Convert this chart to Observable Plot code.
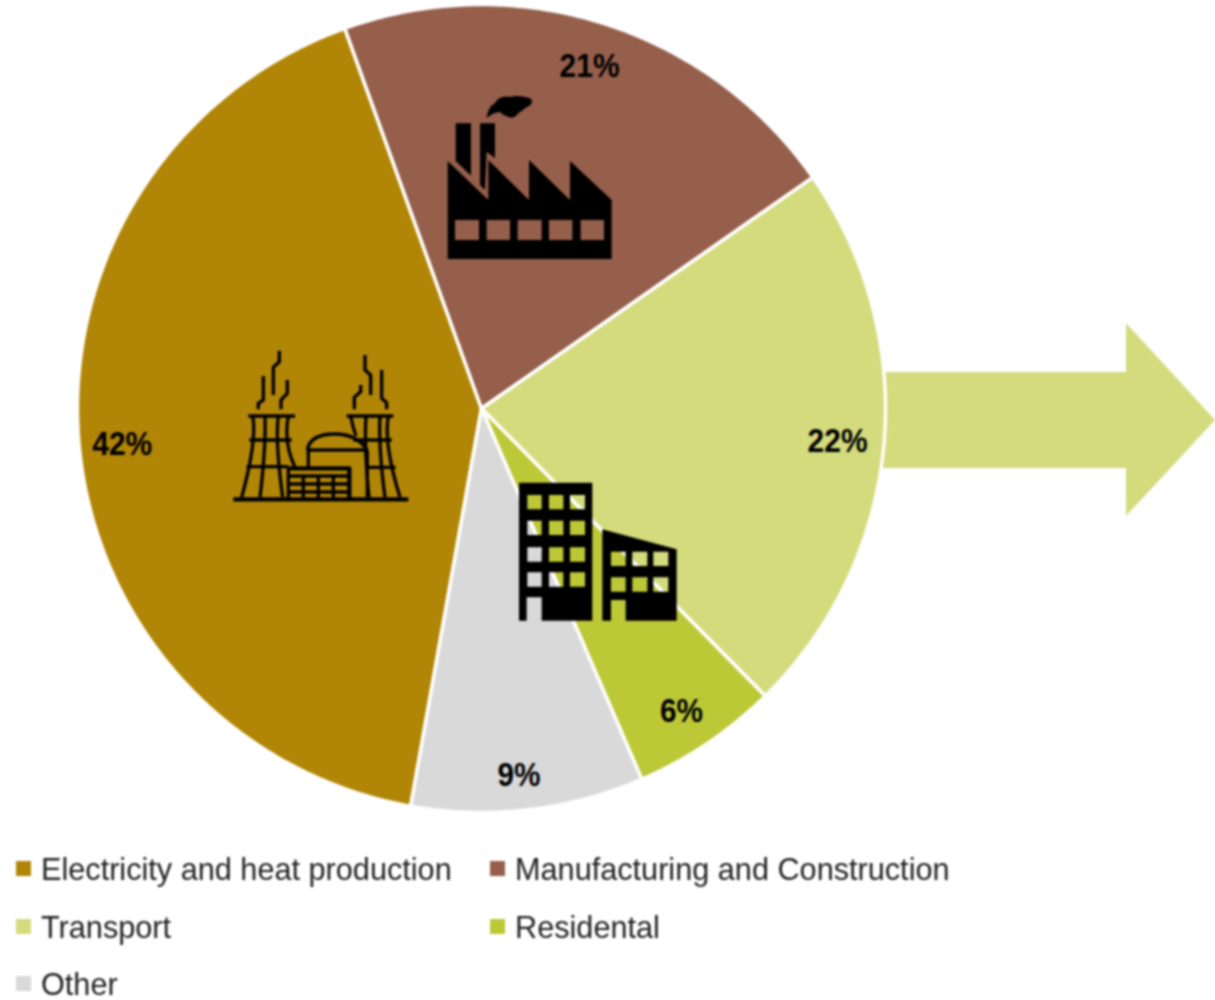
<!DOCTYPE html>
<html>
<head>
<meta charset="utf-8">
<script src="https://cdn.jsdelivr.net/npm/d3@7"></script>
<script src="https://cdn.jsdelivr.net/npm/@observablehq/plot@0.6"></script>
<style>
  html, body { margin: 0; padding: 0; background: #fff; }
  #chart { width: 1215px; height: 1000px; position: relative; filter: blur(0.8px); }
  #chart svg { display: block; }
  #legend { position: absolute; left: 0; top: 840px; width: 1215px; height: 158px;
            font-family: "Liberation Sans", Arial, sans-serif; font-size: 32px; color: #222; }
  .item { position: absolute; height: 28px; line-height: 28px; white-space: nowrap; }
  .swatch { position: absolute; left: 0; top: 6px; width: 15px; height: 15px; }
  .name { position: absolute; left: 25px; top: 0; transform-origin: 0 50%; transform: scaleX(0.958); }
</style>
</head>
<body>
<div id="chart"></div>
<script>
const categories = ["Electricity and heat production", "Manufacturing and Construction", "Transport", "Residental", "Other"];
const shares = [41.7, 20.8, 22.3, 5.9, 9.3];
const colors = ["#B18505", "#955F4C", "#D4DB7D", "#BDC837", "#D9D9D9"];

const W = 1215, H = 840;
const cx = 481, cy = 408, R = 404;
const startDeg = 190.1;
const labelRadius = 0.89;
const labelNudge = {
  "Electricity and heat production": [-1, 6],
  "Manufacturing and Construction": [-1, 1],
  "Transport": [-2, 0],
  "Residental": [-1, 5],
  "Other": [-4, 10]
};

const deg = Math.PI / 180;
const polar = (a, r) => [cx + r * Math.sin(a * deg), cy - r * Math.cos(a * deg)];

let cum = startDeg;
const slicePoints = [], labels = [];
categories.forEach((name, i) => {
  const a0 = cum, a1 = cum + shares[i] * 3.6;
  cum = a1;
  const c = { name, x: cx, y: cy };
  slicePoints.push(c);
  const n = Math.ceil((a1 - a0) / 0.5);
  for (let k = 0; k <= n; k++) {
    const [x, y] = polar(a0 + (a1 - a0) * k / n, R);
    slicePoints.push({ name, x, y });
  }
  slicePoints.push({ ...c });
  const [lx, ly] = polar((a0 + a1) / 2, R * labelRadius);
  const [nx, ny] = labelNudge[name] || [0, 0];
  labels.push({ name, x: lx + nx, y: ly + ny, text: Math.round(shares[i]) + "%" });
});

function decoration(markup) {
  return () => {
    const g = document.createElementNS("http://www.w3.org/2000/svg", "g");
    g.innerHTML = markup;
    return g;
  };
}

const arrow = `<path d="M870,372H1126V323L1215,420L1126,516V468H870Z" fill="${colors[2]}"/>`;

const plant = `<g transform="translate(220,340) scale(0.3333)" fill="none" stroke="#000" stroke-width="10" stroke-linejoin="round">
  <path stroke-width="13" d="M40,478H565"/>
  <path d="M85,228H225M380,228H520M88,300H215M400,300H515M80,380H205M445,382H527"/>
  <path d="M98,228Q112,300 65,472M135,228Q138,320 120,472M175,228Q165,300 188,472M205,228Q190,310 225,382"/>
  <path d="M392,228Q398,260 408,288M438,228Q432,320 447,472M480,228Q475,320 495,472M505,228Q490,310 540,472"/>
  <path d="M262,330Q270,282 345,282Q410,282 442,330M260,330H442M265,330V382M442,330V472"/>
  <path stroke-width="13" d="M205,385H388V478"/>
  <path d="M205,385V478M205,408H385M205,432H385M205,456H385M250,408V478M295,408V478M340,408V478"/>
  <path d="M115,208V190L130,180V108M160,165V82L178,65V32M183,208V180L202,160V120"/>
  <path d="M403,208V172L422,155V135M452,165V105L435,90V45M500,208V188L485,175V90"/>
</g>`;

const factory = `<g transform="translate(435,85) scale(0.3333)" fill="#000">
  <path fill-rule="evenodd" d="M38,228L160,345V225L282,345V225L405,345V228L530,345V522H38Z
    M60,405H132V465H60Z M155,405H225V465H155Z M248,405H320V465H248Z M342,405H412V465H342Z M437,405H507V465H437Z"/>
  <path d="M62,115H108V272L62,228Z"/>
  <path d="M135,115H180V220L155,200L150,315L135,300Z"/>
  <path d="M155,100C158,78 165,62 180,55C185,40 205,30 225,36C245,30 270,35 285,40C297,48 290,62 272,68C262,78 250,82 240,95C225,102 208,92 195,82C180,82 165,90 155,100Z"/>
</g>`;

function rectPath(x0, y0, x1, y1) { return `M${x0},${y0}H${x1}V${y1}H${x0}Z`; }
const leftCols = [[67, 110], [132, 175], [195, 240]], leftRows = [[75, 118], [152, 195], [232, 275], [307, 350]];
const rightCols = [[318, 362], [382, 427], [445, 490]], rightRows = [[245, 288], [322, 365]];
const holes = (cols, rows) => rows.flatMap(r => cols.map(c => rectPath(c[0], r[0], c[1], r[1]))).join("");
const buildings = `<g transform="translate(505,470) scale(0.3333)" fill="#000" fill-rule="evenodd">
  <path d="M42,38H262V452H110V382H65V452H42Z${holes(leftCols, leftRows)}"/>
  <path d="M292,178L515,238V452H362V390H318V452H292Z${holes(rightCols, rightRows)}"/>
</g>`;

const plot = Plot.plot({
  width: W, height: H,
  margin: 0,
  x: { domain: [0, W], range: [0, W], axis: null },
  y: { domain: [0, H], range: [0, H], axis: null },
  color: { domain: categories, range: colors },
  style: { background: "#fff" },
  marks: [
    decoration(arrow),
    Plot.line(slicePoints, {
      x: "x", y: "y", z: "name", fill: "name",
      stroke: "#fff", strokeWidth: 3.5, strokeLinejoin: "round", curve: "linear"
    }),
    decoration(plant),
    decoration(factory),
    decoration(buildings),
    Plot.text(labels, {
      x: "x", y: "y", text: "text",
      fontSize: 33, fontWeight: "bold", fill: "#000",
      fontFamily: "'Liberation Sans', Arial, sans-serif"
    })
  ]
});

d3.select(plot).selectAll("text")
  .attr("lengthAdjust", "spacingAndGlyphs")
  .attr("textLength", function () { return this.textContent.length === 3 ? 60 : 43; });

const chart = document.getElementById("chart");
chart.appendChild(plot);

const legend = d3.select(chart).append("div").attr("id", "legend");
const colX = [16, 490], rowY = [15, 73, 130];
const perRow = 2;
const items = legend.selectAll(".item").data(categories).join("div").attr("class", "item")
  .style("left", (d, i) => colX[i % perRow] + "px")
  .style("top", (d, i) => rowY[Math.floor(i / perRow)] + "px");
items.append("div").attr("class", "swatch").style("background", (d, i) => colors[i]);
items.append("div").attr("class", "name").text(d => d);
</script>
</body>
</html>
